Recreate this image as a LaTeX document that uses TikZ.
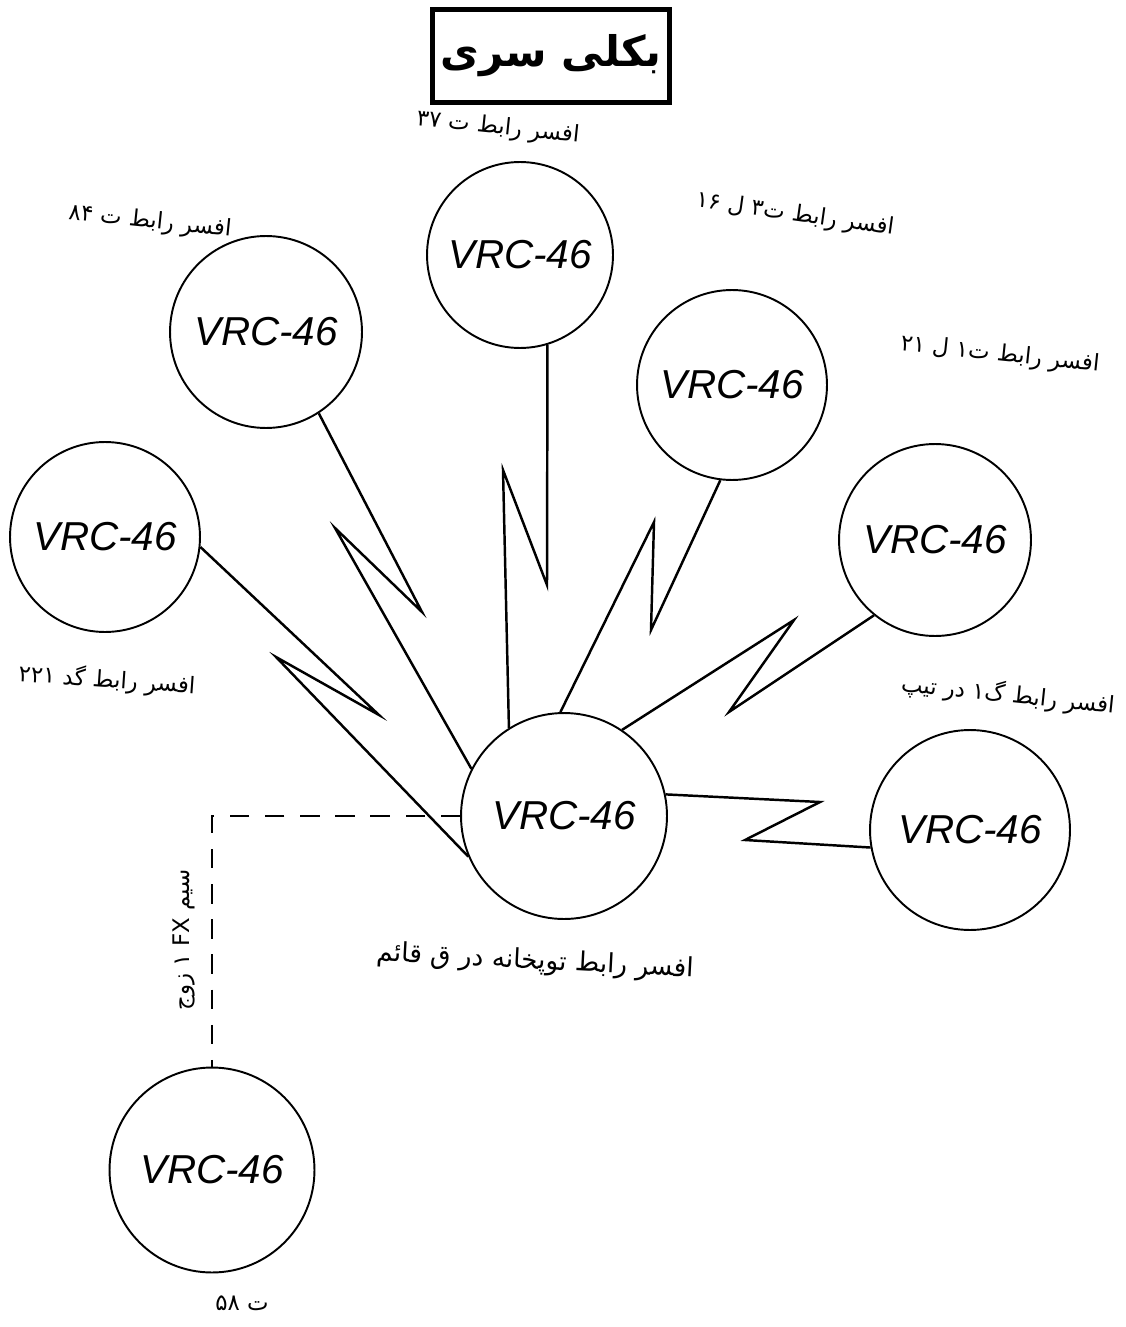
\documentclass[tikz,border=0pt]{standalone}
\usepackage{fontspec}
\usetikzlibrary{positioning}
\TeXXeTstate=1
\newfontfamily\fafont[Script=Arabic]{DejaVu Sans}
\newfontfamily\hand{Liberation Sans}

\begin{document}
\begin{tikzpicture}[x=0.02cm, y=-0.02cm,
    radio/.style={draw, circle, line width=1.1pt, inner sep=0pt, font=\hand\itshape\fontsize{23}{27}\selectfont},
    zig/.style={line width=1.4pt, line join=miter},
    wire/.style={line width=1.2pt, dash pattern=on 11pt off 9pt},
    tag/.style={inner sep=1pt, font=\fafont\fontsize{13}{16}\selectfont}]
  \useasboundingbox (0,0) rectangle (1125,1327);
  % title
  \node[draw, line width=2.6pt, minimum width=4.74cm, minimum height=1.86cm,
        font=\fafont\bfseries\fontsize{24}{28}\selectfont] (title) at (551,56) {\beginR بکلی سری\endR};
  % radios
  \node[radio, minimum size=3.72cm] (c-top) at (520,255) {VRC-46};
  \node[radio, minimum size=3.84cm] (c-ul) at (266,332) {VRC-46};
  \node[radio, minimum size=3.8cm] (c-l) at (105,537) {VRC-46};
  \node[radio, minimum size=3.8cm] (c-ur) at (732,385) {VRC-46};
  \node[radio, minimum size=3.84cm] (c-r) at (935,540) {VRC-46};
  \node[radio, minimum size=4cm] (c-br) at (970,830) {VRC-46};
  \node[radio, minimum size=4.12cm] (c-mid) at (564,816) {VRC-46};
  \node[radio, minimum size=4.1cm] (c-bl) at (212,1170) {VRC-46};
  % labels
  \node[tag, rotate=-6] (l-top) at (498,128) {\beginR افسر رابط ت \beginL۳۷\endL\endR};
  \node[tag, rotate=-6] (l-ul) at (150,222) {\beginR افسر رابط ت \beginL۸۴\endL\endR};
  \node[tag, rotate=-8] (l-ur) at (795,215) {\beginR افسر رابط ت\beginL۳\endL{} ل \beginL۱۶\endL\endR};
  \node[tag, rotate=-6] (l-r) at (1000,355) {\beginR افسر رابط ت\beginL۱\endL{} ل \beginL۲۱\endL\endR};
  \node[tag, rotate=-4] (l-l) at (107,680) {\beginR افسر رابط گد \beginL۲۲۱\endL\endR};
  \node[tag, rotate=-6] (l-br) at (1008,695) {\beginR افسر رابط گ\beginL۱\endL{} در تیپ\endR};
  \node[tag, rotate=-3, font=\fafont\fontsize{15}{18}\selectfont] (l-mid) at (535,962) {\beginR افسر رابط توپخانه در ق قائم\endR};
  \node[tag] (l-bl) at (242,1303) {\beginR ت \beginL۵۸\endL\endR};
  \node[tag, rotate=90] (l-wire) at (184,940) {\beginR سیم \beginL FX\endL{} \beginL۱\endL{} زوج\endR};
  % links
  \draw[zig] (c-top.-73) -- (547,585) -- (503,470) -- (c-mid.122);
  \draw[zig] (c-ul.-57) -- (422,612) -- (335,528) -- (c-mid.153);
  \draw[zig] (c-l.-6) -- (379,715) -- (276,657) -- (c-mid.203);
  \draw[zig] (c-ur.263) -- (651,630) -- (654,522) -- (c-mid.92);
  \draw[zig] (c-r.231) -- (729,712) -- (794,620) -- (c-mid.56);
  \draw[zig] (c-mid.12) -- (820,802) -- (745,840) -- (c-br.190);
  \draw[wire] (c-mid.west) -| (c-bl.north);
\end{tikzpicture}
\end{document}
